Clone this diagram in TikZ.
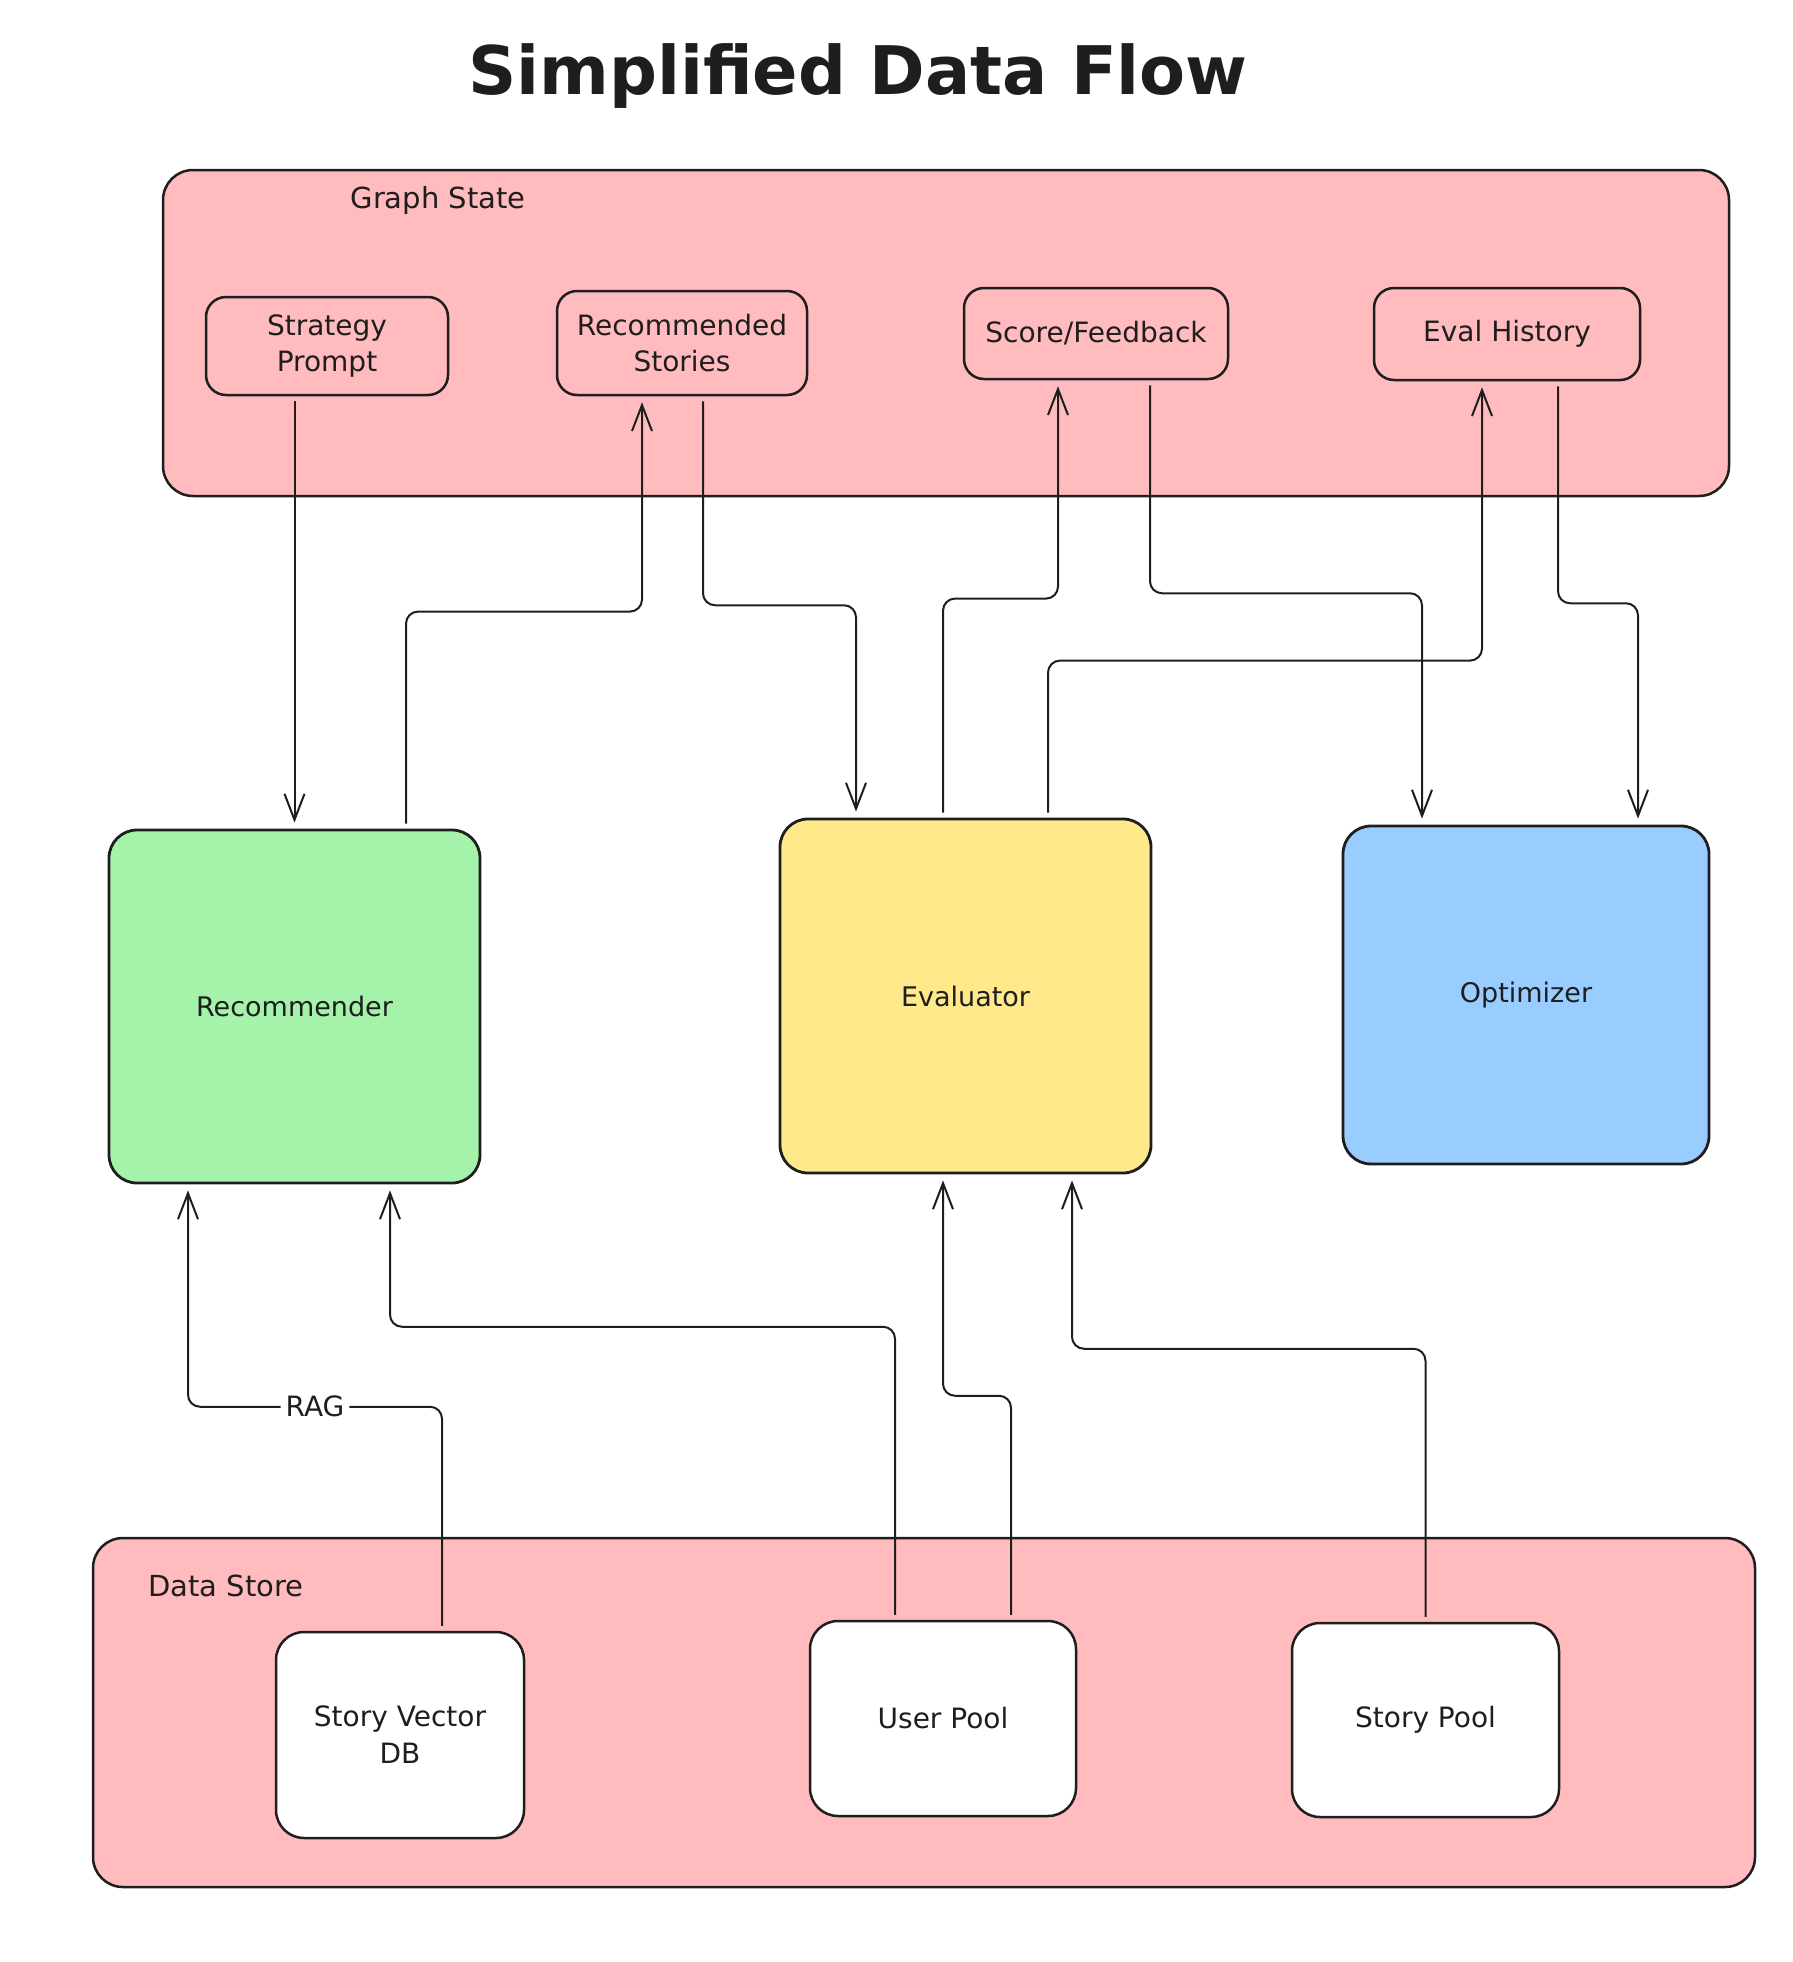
\documentclass[tikz,border=0pt]{standalone}
\usepackage{fontspec}
\setmainfont{DejaVu Sans}
\usetikzlibrary{arrows.meta,positioning}
\definecolor{inkline}{HTML}{1E1E1E}
\definecolor{statepink}{HTML}{FFBBBE}
\definecolor{recgreen}{HTML}{A5F2AA}
\definecolor{evalyellow}{HTML}{FFE98A}
\definecolor{optblue}{HTML}{99CCFF}
\tikzset{
  group/.style={draw=inkline, line width=2.5pt, fill=statepink, rounded corners=30pt, inner sep=0pt},
  field/.style={draw=inkline, line width=2.5pt, fill=statepink, rounded corners=20pt, inner sep=0pt,
    align=center, font=\fontsize{28}{36}\selectfont, text=inkline},
  agent/.style={draw=inkline, line width=2.8pt, rounded corners=28pt, inner sep=0pt,
    font=\fontsize{27}{36}\selectfont, text=inkline},
  store/.style={draw=inkline, line width=2.5pt, fill=white, rounded corners=28pt, inner sep=0pt,
    align=center, font=\fontsize{28}{37}\selectfont, text=inkline},
  lbl/.style={inner sep=0pt, font=\fontsize{29}{36}\selectfont, text=inkline},
  rag/.style={fill=white, inner sep=5pt, font=\fontsize{28}{36}\selectfont, text=inkline},
  flow/.style={draw=inkline, line width=2pt, rounded corners=12pt,
    -{Straight Barb[length=26pt,width=20pt,line width=2pt]}, shorten >=6pt, shorten <=5pt}
}
\begin{document}
\begin{tikzpicture}[x=1pt,y=-1pt]
\useasboundingbox (0,0) rectangle (1792,1962);

\node[text=inkline, font=\fontsize{67}{80}\selectfont\bfseries] (title) at (858,76) {Simplified Data Flow};

\node[group, minimum width=1566pt, minimum height=326pt] (gstate) at (946,333) {};
\node[lbl] (gstatelbl) at (438,200) {Graph State};
\node[field, minimum width=242pt, minimum height=98pt] (sp) at (327,346) {Strategy\\Prompt};
\node[field, minimum width=250pt, minimum height=104pt] (rs) at (682,343) {Recommended\\Stories};
\node[field, minimum width=264pt, minimum height=91pt] (sf) at (1096,333.5) {Score/Feedback};
\node[field, minimum width=266pt, minimum height=92pt] (eh) at (1507,334) {Eval History};

\node[agent, fill=recgreen, minimum width=371pt, minimum height=353pt] (rec) at (294.5,1006.5) {Recommender};
\node[agent, fill=evalyellow, minimum width=371pt, minimum height=354pt] (eval) at (965.5,996) {Evaluator};
\node[agent, fill=optblue, minimum width=366pt, minimum height=338pt] (opt) at (1526,995) {Optimizer};

\node[group, minimum width=1662pt, minimum height=349pt] (dstore) at (924,1712.5) {};
\node[lbl] (dstorelbl) at (226,1586) {Data Store};
\node[store, minimum width=248pt, minimum height=206pt] (svdb) at (400,1735) {Story Vector\\DB};
\node[store, minimum width=266pt, minimum height=195pt] (upool) at (943,1718.5) {User Pool};
\node[store, minimum width=267pt, minimum height=194pt] (spool) at (1425.5,1720) {Story Pool};

\draw[flow] (sp.south -| rec.north) -- (rec.north);
\draw[flow] ([xshift=111.5pt]rec.north) -- ++(0,-217) -| ([xshift=-40pt]rs.south);
\draw[flow] ([xshift=21pt]rs.south) -- ++(0,209) -| ([xshift=-109.5pt]eval.north);
\draw[flow] ([xshift=-22.5pt]eval.north) -- ++(0,-219) -| ([xshift=-38pt]sf.south);
\draw[flow] ([xshift=54pt]sf.south) -- ++(0,213) -| ([xshift=-104pt]opt.north);
\draw[flow] ([xshift=82.5pt]eval.north) -- ++(0,-157) -| ([xshift=-25pt]eh.south);
\draw[flow] ([xshift=51pt]eh.south) -- ++(0,222) -| ([xshift=112pt]opt.north);

\draw[flow] ([xshift=42pt]svdb.north) -- ++(0,-224) -- node[rag] (raglbl) {RAG} ++(-254,0) -- ([xshift=-106.5pt]rec.south);
\draw[flow] ([xshift=-48pt]upool.north) -- ++(0,-293) -| ([xshift=95.5pt]rec.south);
\draw[flow] ([xshift=68pt]upool.north) -- ++(0,-224) -| ([xshift=-22.5pt]eval.south);
\draw[flow] (spool.north) -- ++(0,-273) -| ([xshift=106.5pt]eval.south);
\end{tikzpicture}
\end{document}
